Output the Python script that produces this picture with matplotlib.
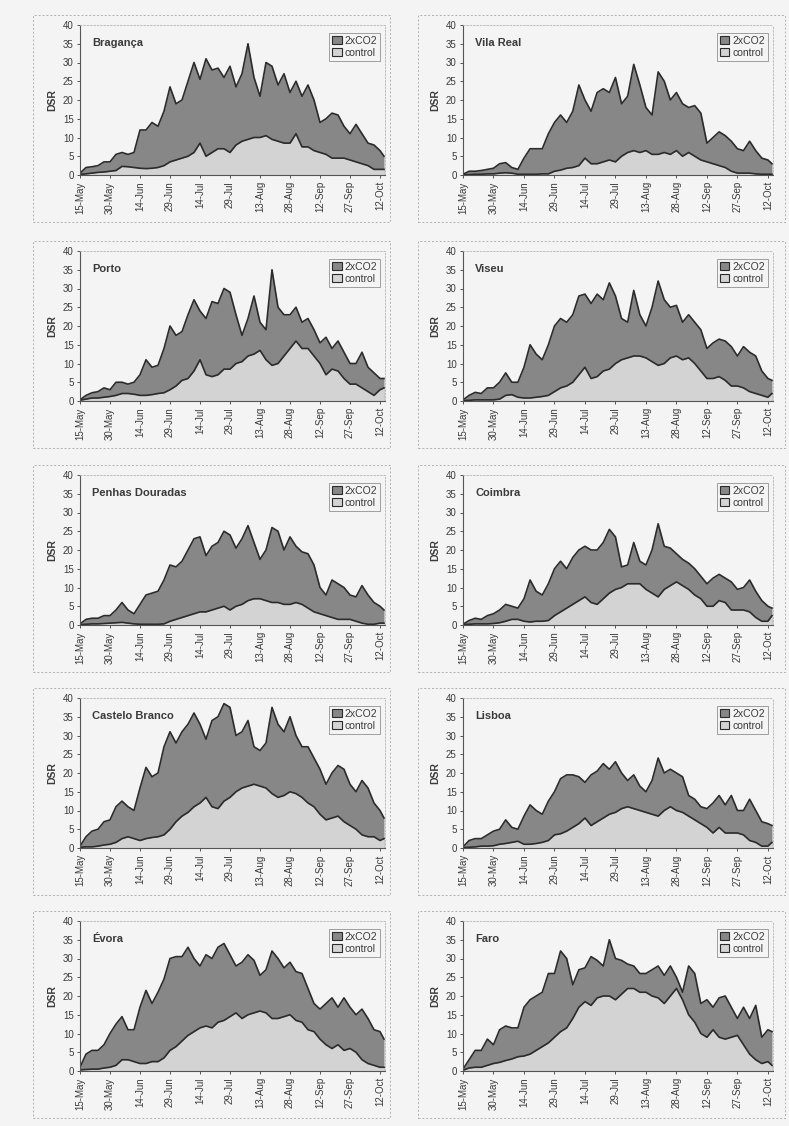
import numpy as np
import matplotlib
matplotlib.use("Agg")
import matplotlib.pyplot as plt
import matplotlib.patches as mpatches

plt.rcParams['font.family'] = ['Liberation Sans', 'DejaVu Sans']

BG    = "#f4f4f4"
DARK  = "#878787"
LIGHT = "#d3d3d3"
LINE  = "#2b2b2b"
TXT   = "#3a3a3a"

# sample days after 15 May (every 3 days, last at day 152)
days = list(range(0, 151, 3)) + [152]
tick_days   = [0, 15, 30, 45, 60, 75, 90, 105, 120, 135, 150]
tick_labels = ["15-May", "30-May", "14-Jun", "29-Jun", "14-Jul", "29-Jul",
               "13-Aug", "28-Aug", "12-Sep", "27-Sep", "12-Oct"]

stations = ["Bragança", "Vila Real", "Porto", "Viseu", "Penhas Douradas",
            "Coimbra", "Castelo Branco", "Lisboa", "Évora", "Faro"]

braganca_co2 = [0.5, 2, 2.2, 2.5, 3.5, 3.5, 5.5, 6, 5.5, 6, 12, 12, 14, 13, 17, 23.5, 19, 20, 25, 30,
                25.5, 31, 28, 28.5, 26, 29, 23.5, 27, 35, 26, 21, 30, 29, 24, 27, 22, 25, 21, 24, 20,
                14, 15, 16.5, 16, 13, 11, 13.5, 11, 8.5, 8, 6.5, 5]
braganca_ctl = [0.2, 0.3, 0.5, 0.7, 0.8, 1, 1.2, 2.3, 2.2, 2, 1.8, 1.7, 1.8, 2, 2.5, 3.5, 4, 4.5, 5, 6,
                8.5, 5, 6, 7, 7, 6, 8, 9, 9.5, 10, 10, 10.5, 9.5, 9, 8.5, 8.5, 11, 7.5, 7.5, 6.5,
                6, 5.5, 4.5, 4.5, 4.5, 4, 3.5, 3, 2.5, 1.5, 1.5, 1.5]
vilareal_co2 = [0.2, 1, 1, 1.2, 1.5, 1.8, 3, 3.3, 2, 1.5, 4.5, 7, 7, 7, 11, 14, 16, 14, 17, 24,
                20, 17, 22, 23, 22, 26, 19, 21, 29.5, 24, 18, 16, 27.5, 25, 20, 22, 19, 18, 18.5, 16.5,
                8.5, 10, 11.5, 10.5, 9, 7, 6.5, 9, 6.5, 4.5, 4, 3]
vilareal_ctl = [0.1, 0.1, 0.2, 0.2, 0.3, 0.3, 0.5, 0.6, 0.5, 0.2, 0.2, 0.2, 0.2, 0.3, 0.3, 1, 1.3, 1.8, 2, 2.5,
                4.5, 3, 3, 3.5, 4, 3.5, 5, 6, 6.5, 6, 6.5, 5.5, 5.5, 6, 5.5, 6.5, 5, 6, 5, 4,
                3.5, 3, 2.5, 2, 1, 0.5, 0.5, 0.5, 0.3, 0.2, 0.2, 0.2]
porto_co2 = [0.3, 1.5, 2.2, 2.5, 3.5, 3, 5, 5, 4.5, 5, 7, 11, 9, 9.5, 14, 20, 17.5, 18.5, 23, 27,
             24, 22, 26.5, 26, 30, 29, 23, 17.5, 22, 28, 21, 19, 35, 25, 23, 23, 25, 21, 22, 19,
             15.5, 17, 14, 16, 13, 10, 10, 13, 9, 7.5, 6, 6]
porto_ctl = [0.2, 0.5, 0.8, 0.8, 1, 1.2, 1.5, 2, 2, 1.8, 1.5, 1.5, 1.7, 2, 2.2, 3, 4, 5.5, 6, 8,
             11, 7, 6.5, 7, 8.5, 8.5, 10, 10.5, 12, 12.5, 13.5, 11, 9.5, 10, 12, 14, 16, 14, 14, 12,
             10, 7, 8.5, 8, 6, 4.5, 4.5, 3.5, 2.5, 1.5, 3, 3.5]
viseu_co2 = [0.3, 1.5, 2.3, 2, 3.5, 3.5, 5, 7.5, 5, 5, 9, 15, 12.5, 11, 15, 20, 22, 21, 23, 28,
             28.5, 26, 28.5, 27, 31.5, 28, 22, 21, 29.5, 23, 20, 25, 32, 27, 25, 25.5, 21, 23, 21, 19,
             14, 15.5, 16.5, 16, 14.5, 12, 14.5, 13, 12, 8, 6, 5.5]
viseu_ctl = [0.1, 0.2, 0.3, 0.3, 0.3, 0.3, 0.5, 1.5, 1.7, 1, 0.8, 0.8, 1, 1.2, 1.5, 2.5, 3.5, 4, 5, 7,
             9, 6, 6.5, 8, 8.5, 10, 11, 11.5, 12, 12, 11.5, 10.5, 9.5, 10, 11.5, 12, 11, 11.5, 10, 8,
             6, 6, 6.5, 5.5, 4, 4, 3.5, 2.5, 2, 1.5, 1, 2]
penhas_co2 = [0.3, 1.5, 1.8, 1.8, 2.5, 2.5, 4, 6, 4, 3, 5.5, 8, 8.5, 9, 12, 16, 15.5, 17, 20, 23,
              23.5, 18.5, 21, 22, 25, 24, 20.5, 23, 26.5, 22, 17.5, 20, 26, 25, 20, 23.5, 21, 19.5, 19, 16,
              10, 8, 12, 11, 10, 8, 7.5, 10.5, 8, 6, 5, 4]
penhas_ctl = [0.1, 0.2, 0.3, 0.3, 0.4, 0.5, 0.6, 0.7, 0.5, 0.3, 0.2, 0.2, 0.2, 0.2, 0.3, 1, 1.5, 2, 2.5, 3,
              3.5, 3.5, 4, 4.5, 5, 4, 5, 5.5, 6.5, 7, 7, 6.5, 6, 6, 5.5, 5.5, 6, 5.5, 4.5, 3.5,
              3, 2.5, 2, 1.5, 1.5, 1.5, 1, 0.5, 0.2, 0.2, 0.5, 0.5]
coimbra_co2 = [0.2, 1.2, 1.8, 1.5, 2.5, 3, 4, 5.5, 5, 4.5, 7, 12, 9, 8, 11, 15, 17, 15, 18, 20,
               21, 20, 20, 22, 25.5, 23.5, 15.5, 16, 22, 17, 16, 20, 27, 21, 20.5, 19, 17.5, 16.5, 15, 13,
               11, 12.5, 13.5, 12.5, 11.5, 9.5, 10, 12, 9, 6.5, 5, 4.5]
coimbra_ctl = [0.1, 0.2, 0.3, 0.3, 0.3, 0.4, 0.6, 1, 1.5, 1.5, 1, 0.8, 1, 1, 1.2, 2.5, 3.5, 4.5, 5.5, 6.5,
               7.5, 6, 5.5, 7, 8.5, 9.5, 10, 11, 11, 11, 9.5, 8.5, 7.5, 9.5, 10.5, 11.5, 10.5, 9.5, 8, 7,
               5, 5, 6.5, 6, 4, 4, 4, 3.5, 2, 1, 1, 2.5]
castelo_co2 = [0.5, 3, 4.5, 5, 7, 7.5, 11, 12.5, 11, 10, 16, 21.5, 19, 20, 27, 31, 28, 31, 33, 36,
               33, 29, 34, 35, 38.5, 37.5, 30, 31, 34, 27, 26, 28, 37.5, 33, 31, 35, 30, 27, 27, 24,
               21, 17, 20, 22, 21, 17, 15, 18, 16, 12, 10, 8]
castelo_ctl = [0.2, 0.3, 0.3, 0.5, 0.8, 1, 1.5, 2.5, 3, 2.5, 2, 2.5, 2.8, 3, 3.5, 5, 7, 8.5, 9.5, 11,
               12, 13.5, 11, 10.5, 12.5, 13.5, 15, 16, 16.5, 17, 16.5, 16, 14.5, 13.5, 14, 15, 14.5, 13.5, 12, 11,
               9, 7.5, 8, 8.5, 7, 6, 5, 3.5, 3, 3, 2, 2.5]
lisboa_co2 = [0.3, 2, 2.5, 2.5, 3.5, 4.5, 5, 7.5, 5.5, 5, 8.5, 11.5, 10, 9, 12.5, 15, 18.5, 19.5, 19.5, 19,
              17.5, 19.5, 20.5, 22.5, 21, 23, 20, 18, 19.5, 16.5, 15, 18, 24, 20, 21, 20, 19, 14, 13, 11,
              10.5, 12, 14, 11.5, 14, 10, 10, 13, 10, 7, 6.5, 6]
lisboa_ctl = [0.1, 0.2, 0.3, 0.5, 0.5, 0.6, 1, 1.2, 1.5, 1.8, 1, 1, 1.2, 1.5, 2, 3.5, 3.8, 4.5, 5.5, 6.5,
              8, 6, 7, 8, 9, 9.5, 10.5, 11, 10.5, 10, 9.5, 9, 8.5, 10, 11, 10, 9.5, 8.5, 7.5, 6.5,
              5.5, 4, 5.5, 4, 4, 4, 3.5, 2, 1.5, 0.5, 0.5, 1.5]
evora_co2 = [1, 4.5, 5.5, 5.5, 7, 10, 12.5, 14.5, 11, 11, 17, 21.5, 18, 21, 24.5, 30, 30.5, 30.5, 33, 30,
             28, 31, 30, 33, 34, 31, 28, 29, 31, 29.5, 25.5, 27, 32, 30, 27.5, 29, 26.5, 26, 22, 18,
             16.5, 18, 19.5, 17, 19.5, 17, 15, 16.5, 14, 11, 10.5, 8.5]
evora_ctl = [0.3, 0.4, 0.5, 0.5, 0.8, 1, 1.5, 3, 3, 2.5, 2, 2, 2.5, 2.5, 3.5, 5.5, 6.5, 8, 9.5, 10.5,
             11.5, 12, 11.5, 13, 13.5, 14.5, 15.5, 14, 15, 15.5, 16, 15.5, 14, 14, 14.5, 15, 13.5, 13, 11, 10.5,
             8.5, 7, 6, 7, 5.5, 6, 5, 3, 2, 1.5, 1, 1]
faro_co2 = [0.5, 3, 5.5, 5.5, 8.5, 7, 11, 12, 11.5, 11.5, 17, 19, 20, 21, 26, 26, 32, 30, 23, 27,
            27.5, 30.5, 29.5, 28, 35, 30, 29.5, 28.5, 28, 26, 26, 27, 28, 25.5, 28, 25, 21, 28, 26, 18,
            19, 17, 19.5, 20, 17, 14, 17, 14, 17.5, 9, 11, 10.5]
faro_ctl = [0.2, 0.8, 1, 1, 1.5, 2, 2.3, 2.8, 3.2, 3.8, 4, 4.5, 5.5, 6.5, 7.5, 9, 10.5, 11.5, 14, 17,
            18.5, 17.5, 19.5, 20, 20, 19, 20.5, 22, 22, 21, 21, 20, 19.5, 18, 20, 22, 19, 15, 13, 10,
            9, 11, 9, 8.5, 9, 9.5, 7, 4.5, 3, 2, 2.5, 1.5]

co2_series = [braganca_co2, vilareal_co2, porto_co2, viseu_co2, penhas_co2,
              coimbra_co2, castelo_co2, lisboa_co2, evora_co2, faro_co2]
ctl_series = [braganca_ctl, vilareal_ctl, porto_ctl, viseu_ctl, penhas_ctl,
              coimbra_ctl, castelo_ctl, lisboa_ctl, evora_ctl, faro_ctl]

W, H = 789, 1126
fig = plt.figure(figsize=(W/100, H/100), dpi=100, facecolor=BG)

col_x  = [(80, 305), (463, 310)]          # plot-area left, width (px)
row_top = [25, 251, 475, 698, 921]        # plot-area top (px)
ph = 150
box_x  = [(33, 357), (418, 367)]

for i, name in enumerate(stations):
    r, c = divmod(i, 2)
    x0, w = col_x[c]
    top = row_top[r]
    # dashed frame around the whole panel
    bx, bw = box_x[c]
    btop, bbot = top - 10, top + ph + 47
    fig.patches.append(mpatches.Rectangle((bx/W, 1 - bbot/H), bw/W, (bbot-btop)/H,
                                          transform=fig.transFigure, fill=False,
                                          edgecolor="#b0b0b0", linestyle=(0, (2, 2)), linewidth=0.7))
    ax = fig.add_axes([x0/W, 1 - (top+ph)/H, w/W, ph/H])
    ax.set_facecolor(BG)
    d = np.array(days)
    ax.fill_between(d, 0, co2_series[i], color=DARK, linewidth=0)
    ax.plot(d, co2_series[i], color=LINE, linewidth=1.2)
    ax.fill_between(d, 0, ctl_series[i], color=LIGHT, linewidth=0)
    ax.plot(d, ctl_series[i], color=LINE, linewidth=1.2)
    ax.set_xlim(0, 152.5)
    ax.set_ylim(0, 40)
    ax.set_yticks(range(0, 41, 5))
    ax.set_xticks(tick_days)
    ax.set_xticklabels(tick_labels, rotation=90)
    ax.tick_params(axis='both', labelsize=7, colors=TXT, length=2.5, width=0.6, pad=2)
    for s in ['left', 'bottom']:
        ax.spines[s].set_color("#555555"); ax.spines[s].set_linewidth(0.8)
    for s in ['top', 'right']:
        ax.spines[s].set_color("#b5b5b5"); ax.spines[s].set_linewidth(0.6)
        ax.spines[s].set_linestyle((0, (2, 2)))
    ax.set_ylabel("DSR", fontsize=7.5, fontweight='bold', color=TXT, labelpad=4)
    ax.text(0.04, 0.88, name, transform=ax.transAxes, fontsize=8,
            fontweight='bold', color=TXT, va='center', ha='left')
    handles = [mpatches.Patch(facecolor=DARK, edgecolor=LINE, linewidth=0.8, label="2xCO2"),
               mpatches.Patch(facecolor=LIGHT, edgecolor=LINE, linewidth=0.8, label="control")]
    leg = ax.legend(handles=handles, loc='upper right', bbox_to_anchor=(0.985, 0.95),
                    fontsize=7.5, frameon=True, fancybox=False, handlelength=0.9, handleheight=0.9,
                    handletextpad=0.3, borderpad=0.3, labelspacing=0.2, borderaxespad=0)
    leg.get_frame().set_edgecolor("#777777")
    leg.get_frame().set_linewidth(0.6)
    leg.get_frame().set_facecolor(BG)
    for t in leg.get_texts():
        t.set_color(TXT)

fig.savefig("out.png", dpi=100, facecolor=BG)
